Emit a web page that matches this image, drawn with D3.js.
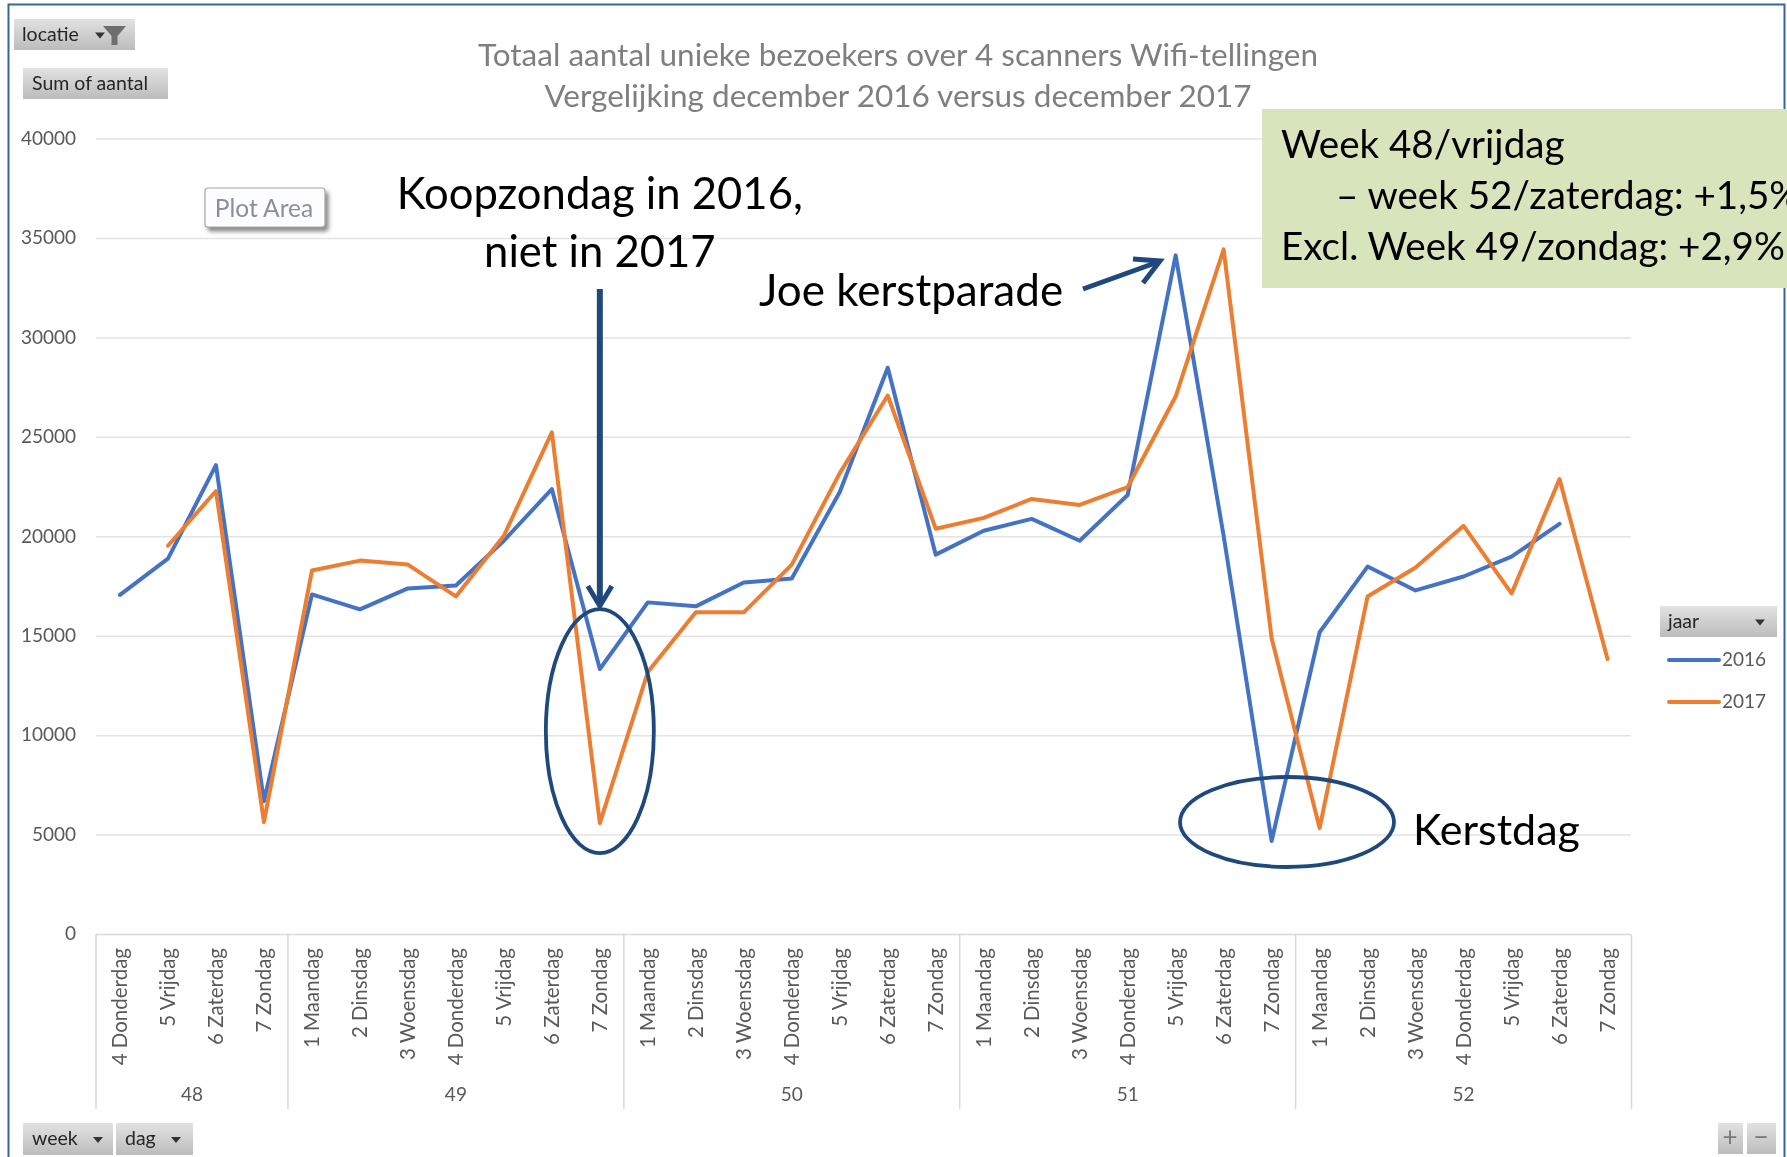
<!DOCTYPE html>
<html><head><meta charset="utf-8">
<script src="https://cdn.jsdelivr.net/npm/d3@7"></script>
<style>
html,body{margin:0;padding:0;background:#fff;overflow:hidden}
svg{display:block;font-family:Lato,"Open Sans",sans-serif;filter:blur(0.5px)}
</style></head><body>
<svg id="c" width="1787" height="1157"></svg>
<script>
const days=["4 Donderdag","5 Vrijdag","6 Zaterdag","7 Zondag",
"1 Maandag","2 Dinsdag","3 Woensdag","4 Donderdag","5 Vrijdag","6 Zaterdag","7 Zondag",
"1 Maandag","2 Dinsdag","3 Woensdag","4 Donderdag","5 Vrijdag","6 Zaterdag","7 Zondag",
"1 Maandag","2 Dinsdag","3 Woensdag","4 Donderdag","5 Vrijdag","6 Zaterdag","7 Zondag",
"1 Maandag","2 Dinsdag","3 Woensdag","4 Donderdag","5 Vrijdag","6 Zaterdag","7 Zondag"];
const weeks=["48","49","50","51","52"];
const weekSizes=[4,7,7,7,7];
const values2016=[17080,18900,23600,6700,17100,16350,17400,17550,19800,22400,13350,16700,16500,17700,17900,22250,28500,19100,20300,20900,19800,22100,34150,20050,4700,15200,18500,17300,18000,19000,20650,null];
const values2017=[null,19550,22300,5650,18300,18800,18600,17000,20050,25250,5600,13200,16200,16200,18600,23200,27100,20400,20950,21900,21600,22500,27050,34450,14900,5350,17000,18450,20550,17150,22900,13850];
const yTicks=[0,5000,10000,15000,20000,25000,30000,35000,40000];
const titleLines=["Totaal aantal unieke bezoekers over 4 scanners Wifi-tellingen","Vergelijking december 2016 versus december 2017"];
const boxLines=["Week 48/vrijdag","– week 52/zaterdag: +1,5%","Excl. Week 49/zondag: +2,9%"];

const svg=d3.select("#c");
const defs=svg.append("defs");
const grad=defs.append("linearGradient").attr("id","btn").attr("x1",0).attr("x2",0).attr("y1",0).attr("y2",1);
grad.append("stop").attr("offset",0).attr("stop-color","#e2e2e2");
grad.append("stop").attr("offset",1).attr("stop-color","#bcbcbc");
const sh=defs.append("filter").attr("id","shadow").attr("x","-10%").attr("y","-20%").attr("width","125%").attr("height","150%");
sh.append("feDropShadow").attr("dx",3).attr("dy",4).attr("stdDeviation",2).attr("flood-color","#888");

const x=d3.scaleBand().domain(d3.range(days.length)).range([96,1631.5]);
const cx=i=>x(i)+x.bandwidth()/2;
const y=d3.scaleLinear().domain([0,40000]).range([934.5,139]);

// frame
svg.append("path").attr("d","M8.5,1157V4.5H1784.5V1157").attr("fill","none").attr("stroke","#3a659b").attr("stroke-width",2);

// grid
const gridColor="#e3e3e3";
svg.append("g").selectAll("line").data(yTicks.filter(d=>d>0)).join("line")
 .attr("x1",96).attr("x2",1631).attr("y1",y).attr("y2",y).attr("stroke",gridColor).attr("stroke-width",1.5);
svg.append("g").selectAll("text").data(yTicks).join("text")
 .attr("x",76).attr("y",d=>y(d)+1).attr("text-anchor","end").attr("dominant-baseline","middle")
 .attr("font-size",19).attr("fill","#595959").text(d=>d);

// category axis
const ax=svg.append("g").attr("stroke","#d9d9d9").attr("stroke-width",1.5);
ax.append("line").attr("x1",96).attr("x2",1631).attr("y1",y(0)).attr("y2",y(0));
let cum=0;
const bounds=[0];
weekSizes.forEach(n=>{cum+=n;bounds.push(cum)});
ax.selectAll(".sep").data(bounds).join("line")
 .attr("x1",i=>i<days.length?x(i):x(days.length-1)+x.bandwidth())
 .attr("x2",i=>i<days.length?x(i):x(days.length-1)+x.bandwidth())
 .attr("y1",y(0)).attr("y2",1109);
svg.append("g").selectAll("text").data(days).join("text")
 .attr("transform",(d,i)=>`translate(${cx(i)+7.5},948) rotate(-90)`)
 .attr("text-anchor","end").attr("font-size",20.5).attr("fill","#595959").text(d=>d);
svg.append("g").selectAll("text").data(weeks).join("text")
 .attr("x",(d,i)=>(cx(bounds[i])+cx(bounds[i+1]-1))/2).attr("y",1101)
 .attr("text-anchor","middle").attr("font-size",19).attr("fill","#595959").text(d=>d);

// title
svg.append("g").selectAll("text").data(titleLines).join("text")
 .attr("x",898).attr("y",(d,i)=>66+i*41).attr("text-anchor","middle")
 .attr("font-size",31.5).attr("fill","#7f7f7f").text(d=>d);

// series
const line=d3.line().defined(d=>d!=null).x((d,i)=>cx(i)).y(d=>y(d));
[[values2016,"#4472c4"],[values2017,"#ed7d31"]].forEach(([v,c])=>{
 svg.append("path").attr("d",line(v)).attr("fill","none").attr("stroke",c)
  .attr("stroke-width",4).attr("stroke-linejoin","round").attr("stroke-linecap","round");
});

// buttons
function button(x0,y0,w,h,label,opts={}){
 svg.append("rect").attr("x",x0).attr("y",y0).attr("width",w).attr("height",h).attr("fill","url(#btn)");
 if(label)svg.append("text").attr("x",x0+(opts.pad??8)).attr("y",y0+h/2+6).attr("font-size",opts.size||19.5)
  .attr("fill","#262626").text(label);
 if(opts.arrow!=null){
  const a=x0+opts.arrow,b=y0+h/2-2;
  svg.append("path").attr("d",`M${a-5},${b}h10l-5,6z`).attr("fill","#333");
 }
}
button(14,19,121,31,"locatie",{arrow:86});
svg.append("path").attr("d","M103,26h23l-8.5,10v9h-6v-9z").attr("fill","#6e6e6e");
button(23,68,145,31,"Sum of aantal",{pad:9});
button(23,1123,90,32,"week",{arrow:75,pad:9});
button(116,1123,77,32,"dag",{arrow:60,pad:9});
button(1660,606,117,31,"jaar",{arrow:100});
button(1718,1123,25,31,null);
button(1747,1123,29,31,null);
svg.append("text").attr("x",1730).attr("y",1146).attr("text-anchor","middle").attr("font-size",26).attr("fill","#7a7a7a").text("+");
svg.append("text").attr("x",1761).attr("y",1146).attr("text-anchor","middle").attr("font-size",26).attr("fill","#7a7a7a").text("−");

// legend
[["2016","#4472c4",660],["2017","#ed7d31",702]].forEach(([t,c,ly])=>{
 svg.append("line").attr("x1",1669).attr("x2",1719).attr("y1",ly).attr("y2",ly).attr("stroke",c).attr("stroke-width",4).attr("stroke-linecap","round");
 svg.append("text").attr("x",1722).attr("y",ly+6).attr("font-size",19).attr("fill","#595959").text(t);
});

// Plot Area tip
svg.append("rect").attr("x",205).attr("y",188).attr("width",120).attr("height",39).attr("rx",3)
 .attr("fill","#fdfdff").attr("stroke","#a8a8a8").attr("stroke-width",1.2).attr("filter","url(#shadow)");
svg.append("text").attr("x",264).attr("y",217).attr("text-anchor","middle").attr("font-size",24.5).attr("fill","#8a8f9c").text("Plot Area");

// green box
svg.append("rect").attr("x",1262).attr("y",109).attr("width",525).attr("height",179).attr("fill","#d8e4bc");
svg.append("g").selectAll("text").data(boxLines).join("text")
 .attr("x",(d,i)=>i===1?1336:1281).attr("y",(d,i)=>158+i*51).attr("font-size",38.6).attr("fill","#000").text(d=>d);

// annotations
const navy="#1f497d";
const note=(t,px,py,anchor,size)=>svg.append("text").attr("x",px).attr("y",py).attr("text-anchor",anchor).attr("font-size",size).attr("fill","#000").text(t);
note("Koopzondag in 2016,",cx(10),209,"middle",43.6);
note("niet in 2017",cx(10),267,"middle",43.6);
note("Joe kerstparade",911,306,"middle",44);
note("Kerstdag",1413,845,"start",43);

const ax10=cx(10);
svg.append("path").attr("d",`M${ax10},289L${ax10},604`).attr("stroke",navy).attr("stroke-width",6).attr("fill","none");
svg.append("path").attr("d",`M${ax10-12},586L${ax10},606L${ax10+12},586`).attr("stroke",navy).attr("stroke-width",5).attr("fill","none");
svg.append("path").attr("d","M1083,289L1158,262").attr("stroke",navy).attr("stroke-width",5).attr("fill","none");
svg.append("path").attr("d","M1133,259L1160,261L1143,283").attr("stroke",navy).attr("stroke-width",5).attr("fill","none");

svg.append("ellipse").attr("cx",ax10).attr("cy",y(10000)-4.5).attr("rx",54).attr("ry",122)
 .attr("fill","none").attr("stroke",navy).attr("stroke-width",3.8);
svg.append("ellipse").attr("cx",1287).attr("cy",822).attr("rx",107).attr("ry",45)
 .attr("fill","none").attr("stroke",navy).attr("stroke-width",3.8);
</script>
</body></html>
